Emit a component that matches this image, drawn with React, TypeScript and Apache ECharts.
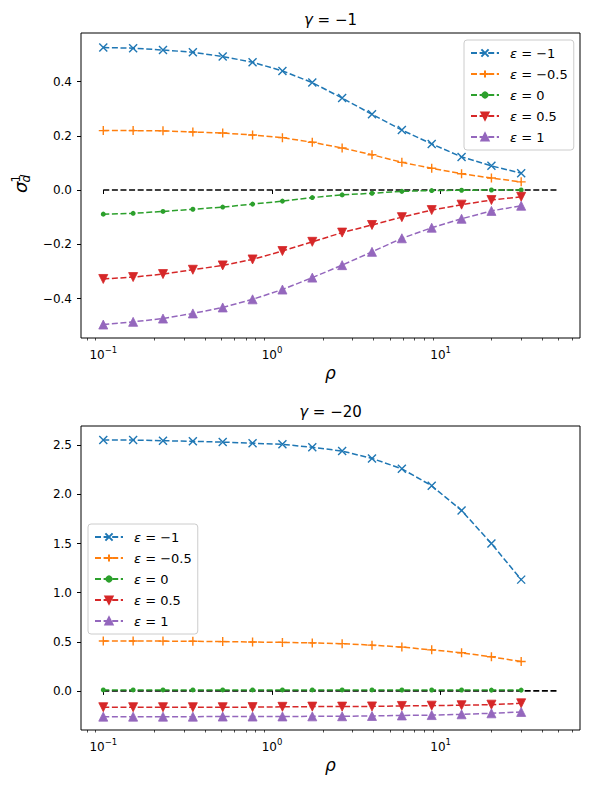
import React, { useEffect, useRef } from "react";
import * as echarts from "echarts";

const rho = [0.1, 0.1503, 0.2259, 0.3396, 0.5104, 0.7672, 1.1531, 1.7333, 2.6052, 3.9158, 5.8857, 8.8467, 13.297, 19.986, 30.0];

const epsNames = ["ε = −1", "ε = −0.5", "ε = 0", "ε = 0.5", "ε = 1"];

// gamma = -1
const topEpsM1 = [0.525, 0.523, 0.516, 0.508, 0.492, 0.471, 0.439, 0.396, 0.339, 0.279, 0.221, 0.170, 0.122, 0.089, 0.062];
const topEpsM05 = [0.219, 0.219, 0.218, 0.214, 0.210, 0.203, 0.193, 0.176, 0.155, 0.130, 0.102, 0.080, 0.060, 0.044, 0.030];
const topEps0 = [-0.089, -0.086, -0.079, -0.071, -0.063, -0.052, -0.041, -0.028, -0.018, -0.012, -0.005, -0.002, -0.001, 0.0, 0.0];
const topEps05 = [-0.328, -0.321, -0.310, -0.294, -0.278, -0.256, -0.225, -0.191, -0.157, -0.129, -0.100, -0.074, -0.054, -0.037, -0.025];
const topEps1 = [-0.496, -0.486, -0.474, -0.455, -0.433, -0.403, -0.367, -0.323, -0.277, -0.228, -0.178, -0.139, -0.106, -0.077, -0.058];

// gamma = -20
const botEpsM1 = [2.554, 2.554, 2.547, 2.541, 2.533, 2.522, 2.51, 2.48, 2.442, 2.367, 2.261, 2.088, 1.837, 1.5, 1.133];
const botEpsM05 = [0.508, 0.508, 0.507, 0.505, 0.502, 0.498, 0.494, 0.489, 0.481, 0.466, 0.446, 0.418, 0.388, 0.347, 0.299];
const botEps0 = [0.01, 0.01, 0.01, 0.01, 0.01, 0.01, 0.01, 0.01, 0.01, 0.01, 0.009, 0.009, 0.009, 0.008, 0.008];
const botEps05 = [-0.166, -0.166, -0.166, -0.166, -0.166, -0.165, -0.162, -0.16, -0.16, -0.158, -0.153, -0.15, -0.146, -0.14, -0.126];
const botEps1 = [-0.262, -0.262, -0.262, -0.262, -0.261, -0.261, -0.26, -0.259, -0.258, -0.255, -0.25, -0.246, -0.238, -0.228, -0.214];

const zeroLineX = [0.1, 50];

const topYTicks = [-0.4, -0.2, 0.0, 0.2, 0.4];
const botYTicks = [0.0, 0.5, 1.0, 1.5, 2.0, 2.5];
const xMajorTicks = [0.1, 1, 10];
const xMinorTicks = [0.08, 0.09, 0.2, 0.3, 0.4, 0.5, 0.6, 0.7, 0.8, 0.9, 2, 3, 4, 5, 6, 7, 8, 9, 20, 30, 40, 50, 60];

const titles = ["−1", "−20"];

const FONT = "DejaVu Sans";
const colors = ["#1f77b4", "#ff7f0e", "#2ca02c", "#d62728", "#9467bd"];
const DASH = [6, 2.6];

const styles = [
  { symbol: "path://M0,0L10,10M10,0L0,10", size: 8, rotate: 0, border: 1.4 },
  { symbol: "path://M5,0L5,10M0,5L10,5", size: 9, rotate: 0, border: 1.4 },
  { symbol: "circle", size: 5, rotate: 0, border: 0 },
  { symbol: "triangle", size: 9, rotate: 180, border: 0.8 },
  { symbol: "triangle", size: 9, rotate: 0, border: 0.8 },
];

const fmtNum = (v: number) => {
  const s = Math.abs(v) < 1e-9 ? "0.0" : v.toFixed(1);
  return s.replace("-", "−");
};

export default function App() {
  const ref = useRef<HTMLDivElement>(null);

  useEffect(() => {
    document.body.style.margin = "0";
    const chart = echarts.init(ref.current!, undefined, { renderer: "svg" });

    const grids = [
      { left: 81, top: 33, width: 499, height: 305 },
      { left: 81, top: 426, width: 499, height: 304 },
    ];
    const yRanges = [
      { min: -0.5456, max: 0.5788, ticks: topYTicks },
      { min: -0.398, max: 2.697, ticks: botYTicks },
    ];
    const dataSets = [
      [topEpsM1, topEpsM05, topEps0, topEps05, topEps1],
      [botEpsM1, botEpsM05, botEps0, botEps05, botEps1],
    ];

    const xMin = 0.07378;
    const xMax = 66.95;

    const xAxes: any[] = [];
    const yAxes: any[] = [];
    const series: any[] = [];

    grids.forEach((_, g) => {
      xAxes.push({
        type: "log",
        gridIndex: g,
        min: xMin,
        max: xMax,
        logBase: 10,
        position: "bottom",
        name: "ρ",
        nameLocation: "middle",
        nameGap: 26,
        nameTextStyle: { fontFamily: FONT, fontStyle: "italic", fontSize: 17, color: "#000" },
        axisLine: { show: false },
        splitLine: { show: false },
        minorTick: { show: false },
        axisTick: { show: true, length: 4, customValues: xMajorTicks, lineStyle: { color: "#000", width: 1 } },
        axisLabel: {
          show: true,
          customValues: xMajorTicks,
          margin: 7,
          color: "#000",
          formatter: (v: number) => {
            const e = Math.round(Math.log10(v));
            return "{b|10}{sup|" + (e < 0 ? "−" + -e : String(e)) + "}";
          },
          rich: {
            b: { fontFamily: FONT, fontSize: 12, color: "#000", lineHeight: 16, verticalAlign: "bottom" },
            sup: { fontFamily: FONT, fontSize: 8.5, color: "#000", lineHeight: 10, verticalAlign: "top" },
          },
        },
      });
      xAxes.push({
        type: "log",
        gridIndex: g,
        min: xMin,
        max: xMax,
        logBase: 10,
        position: "bottom",
        axisLine: { show: false },
        splitLine: { show: false },
        axisLabel: { show: false },
        axisTick: { show: true, length: 2.5, customValues: xMinorTicks, lineStyle: { color: "#000", width: 0.7 } },
      });
      yAxes.push({
        type: "value",
        gridIndex: g,
        min: yRanges[g].min,
        max: yRanges[g].max,
        axisLine: { show: false },
        splitLine: { show: false },
        axisTick: { show: true, length: 4, customValues: yRanges[g].ticks, lineStyle: { color: "#000", width: 1 } },
        axisLabel: {
          customValues: yRanges[g].ticks,
          formatter: (v: number) => fmtNum(v),
          fontFamily: FONT,
          fontSize: 12,
          color: "#000",
          margin: 9,
        },
      });

      series.push({
        type: "line",
        name: "zero",
        xAxisIndex: g * 2,
        yAxisIndex: g,
        data: zeroLineX.map((x) => [x, 0]),
        symbol: "none",
        silent: true,
        lineStyle: { color: "#000", width: 1.6, type: DASH },
        z: 1,
      });

      dataSets[g].forEach((vals, k) => {
        const st = styles[k];
        series.push({
          type: "line",
          name: epsNames[k],
          xAxisIndex: g * 2,
          yAxisIndex: g,
          data: rho.map((r, i) => [r, vals[i]]),
          symbol: st.symbol,
          symbolSize: st.size,
          symbolRotate: st.rotate,
          showAllSymbol: true,
          color: colors[k],
          itemStyle: { color: colors[k], borderColor: colors[k], borderWidth: st.border },
          lineStyle: { color: colors[k], width: 1.5, type: DASH },
          emphasis: { disabled: true },
          z: 2 + k,
        });
      });
    });

    const legendBase = (left: number, top: number) => ({
      left,
      top,
      orient: "vertical",
      data: epsNames,
      selectedMode: false,
      itemWidth: 28,
      itemHeight: 9,
      itemGap: 7,
      padding: [6, 6, 6, 6],
      borderColor: "#cccccc",
      borderWidth: 1,
      borderRadius: 3,
      backgroundColor: "rgba(255,255,255,0.8)",
      formatter: (name: string) => "{i|ε}" + name.slice(1),
      textStyle: {
        fontFamily: FONT,
        fontSize: 13,
        lineHeight: 14,
        color: "#000",
        padding: [0, 0, 0, 6],
        rich: { i: { fontFamily: FONT, fontStyle: "italic", fontSize: 13, lineHeight: 14, color: "#000" } },
      },
    });

    const titleText = (y: number, val: string) => ({
      type: "text",
      x: 330.5,
      y,
      style: {
        text: "{i|γ} = " + val,
        align: "center",
        verticalAlign: "middle",
        fontFamily: FONT,
        fontSize: 15,
        fill: "#000",
        rich: { i: { fontFamily: FONT, fontStyle: "italic", fontSize: 15 } },
      },
    });

    chart.setOption({
      animation: false,
      backgroundColor: "#fff",
      grid: grids.map((g) => ({ ...g, show: true, borderColor: "#000", borderWidth: 1, backgroundColor: "transparent" })),
      xAxis: xAxes,
      yAxis: yAxes,
      legend: [legendBase(464, 40), legendBase(88, 524)],
      series,
      graphic: [
        titleText(20, titles[0]),
        titleText(412, titles[1]),
        {
          type: "group",
          x: 25,
          y: 193,
          rotation: Math.PI / 2,
          children: [
            { type: "text", x: 0, y: 4, style: { text: "σ", fontFamily: FONT, fontStyle: "italic", fontSize: 18, fill: "#000", align: "left", verticalAlign: "bottom" } },
            { type: "text", x: 10.5, y: -3, style: { text: "1", fontFamily: FONT, fontSize: 12, fill: "#000", align: "left", verticalAlign: "bottom" } },
            { type: "text", x: 10.5, y: 7, style: { text: "d", fontFamily: FONT, fontStyle: "italic", fontSize: 12, fill: "#000", align: "left", verticalAlign: "bottom" } },
          ],
        },
      ],
    });

    return () => chart.dispose();
  }, []);

  return <div ref={ref} style={{ position: "absolute", left: 0, top: 0, width: 590, height: 790 }} />;
}
